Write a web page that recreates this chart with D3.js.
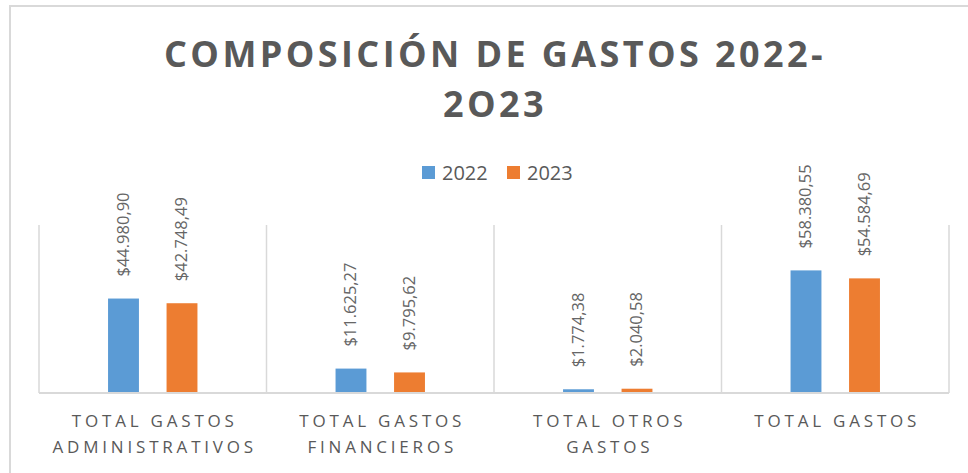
<!DOCTYPE html>
<html>
<head>
<meta charset="utf-8">
<script src="https://cdn.jsdelivr.net/npm/d3@7"></script>
<style>
  body { margin: 0; background: #fff; }
  svg { display: block; font-family: "Open Sans", sans-serif; }
</style>
</head>
<body>
<svg id="chart" width="968" height="473"></svg>
<script>
const categories = ["TOTAL GASTOS ADMINISTRATIVOS", "TOTAL GASTOS FINANCIEROS", "TOTAL OTROS GASTOS", "TOTAL GASTOS"]
const categoryLines = [["TOTAL GASTOS", "ADMINISTRATIVOS"], ["TOTAL GASTOS", "FINANCIEROS"], ["TOTAL OTROS", "GASTOS"], ["TOTAL GASTOS"]]
const series = ["2022", "2023"]
const values2022 = [44980.90, 11625.27, 1774.38, 58380.55]
const values2023 = [42748.49, 9795.62, 2040.58, 54584.69]
const colors = ["#5b9bd5", "#ed7d31"]
const titleLines = ["COMPOSICIÓN DE GASTOS 2022-", "2O23"]

const fmt = v => "$" + d3.format(",.2f")(v).replace(/,/g, "#").replace(".", ",").replace(/#/g, ".")

const svg = d3.select("#chart")
const margin = { top: 225, left: 39, right: 19, bottom: 80 }
const width = 968 - margin.left - margin.right
const height = 473 - margin.top - margin.bottom

// chart frame (only top and left edges are visible)
svg.append("path")
  .attr("d", "M10,473 V6 H968")
  .attr("fill", "none")
  .attr("stroke", "#d9d9d9")
  .attr("stroke-width", 2)

// title
svg.append("g").selectAll("text")
  .data(titleLines)
  .join("text")
  .attr("x", 495)
  .attr("y", (d, i) => 67 + i * 50)
  .attr("text-anchor", "middle")
  .attr("font-size", 36)
  .attr("font-weight", "bold")
  .attr("letter-spacing", 3.4)
  .attr("fill", "#595959")
  .text(d => d)

// legend
const legend = svg.append("g")
  .selectAll("g")
  .data(series)
  .join("g")
  .attr("transform", (d, i) => "translate(" + (422 + i * 85) + ",166)")
legend.append("rect")
  .attr("width", 13).attr("height", 13)
  .attr("fill", (d, i) => colors[i])
legend.append("text")
  .attr("x", 20).attr("y", 14)
  .attr("font-size", 20)
  .attr("fill", "#595959")
  .text(d => d)

const g = svg.append("g")
  .attr("transform", "translate(" + margin.left + "," + margin.top + ")")

const x = d3.scaleBand().domain(categories).range([0, width])
const xs = d3.scaleBand().domain(series).range([0, x.bandwidth()])
  .paddingInner(0.472).paddingOuter(1.18)
const y = d3.scaleLinear().domain([0, 80000]).range([height, 0])

// vertical gridlines between categories
const bounds = categories.map(c => x(c)).concat([width])
g.append("g").selectAll("line")
  .data(bounds)
  .join("line")
  .attr("x1", d => d).attr("x2", d => d)
  .attr("y1", 0).attr("y2", height)
  .attr("stroke", "#d9d9d9")
  .attr("stroke-width", 1.5)

const rows = categories.map((c, i) => ({ cat: c, vals: [values2022[i], values2023[i]] }))

const groups = g.append("g").selectAll("g")
  .data(rows)
  .join("g")
  .attr("transform", d => "translate(" + x(d.cat) + ",0)")

const cells = groups.selectAll("g")
  .data(d => d.vals.map((v, i) => ({ s: series[i], v: v, i: i })))
  .join("g")

cells.append("rect")
  .attr("x", d => xs(d.s))
  .attr("y", d => y(d.v))
  .attr("width", xs.bandwidth())
  .attr("height", d => height - y(d.v))
  .attr("fill", d => colors[d.i])

cells.append("text")
  .attr("transform", d => "translate(" + (xs(d.s) + xs.bandwidth() / 2 + 1) + "," + (y(d.v) - 22) + ") rotate(-90)")
  .attr("dominant-baseline", "middle")
  .attr("font-size", 16.5)
  .attr("fill", "#666666")
  .text(d => fmt(d.v))

// category axis line
g.append("line")
  .attr("x1", 0).attr("x2", width)
  .attr("y1", height).attr("y2", height)
  .attr("stroke", "#d9d9d9")
  .attr("stroke-width", 2)

// category labels
const labels = g.append("g").selectAll("text")
  .data(categories)
  .join("text")
  .attr("x", d => x(d) + x.bandwidth() / 2 + 2)
  .attr("text-anchor", "middle")
  .attr("font-size", 17)
  .attr("letter-spacing", 3.8)
  .attr("fill", "#595959")
labels.selectAll("tspan")
  .data((d, i) => categoryLines[i])
  .join("tspan")
  .attr("x", function () { return this.parentNode.getAttribute("x") })
  .attr("y", (d, i) => height + 34 + i * 26)
  .text(d => d)
</script>
</body>
</html>
